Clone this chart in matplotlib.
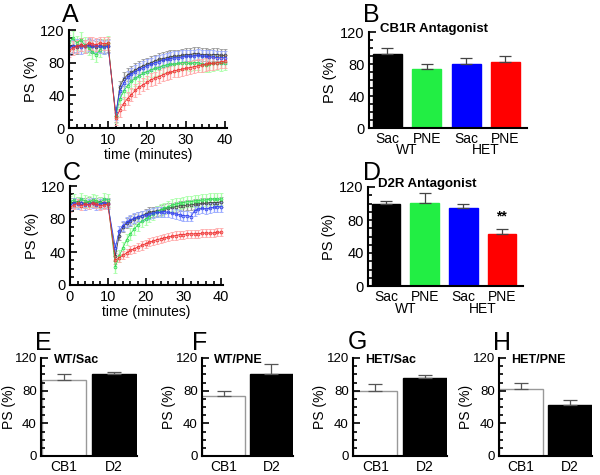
import matplotlib
matplotlib.use("Agg")
import matplotlib.pyplot as plt
from matplotlib.ticker import MultipleLocator

plt.rcParams['font.family'] = ['Liberation Sans', 'DejaVu Sans']

# ---------------- data ----------------
time_min = [0, 1, 2, 3, 4, 5, 6, 7, 8, 9, 10,
            12, 13, 14, 15, 16, 17, 18, 19, 20, 21, 22, 23, 24, 25, 26, 27, 28, 29, 30,
            31, 32, 33, 34, 35, 36, 37, 38, 39, 40]

# Panel A (CB1R antagonist time course)
a_black = [100, 101, 99, 102, 100, 101, 100, 99, 101, 100, 101,
           15, 50, 60, 65, 68, 71, 74, 76, 78, 80, 82, 84, 85, 86, 87, 88, 88, 89, 90,
           90, 91, 91, 90, 90, 89, 90, 90, 89, 89]
a_green = [105, 110, 104, 108, 102, 98, 93, 90, 96, 100, 104,
           15, 35, 45, 52, 57, 61, 64, 67, 69, 71, 73, 74, 76, 77, 78, 78, 79, 80, 80,
           79, 80, 80, 78, 77, 78, 79, 80, 79, 80]
a_blue = [98, 100, 101, 99, 100, 102, 100, 101, 100, 99, 100,
          18, 45, 55, 62, 66, 69, 72, 74, 76, 78, 80, 81, 83, 84, 85, 86, 86, 87, 88,
          88, 88, 89, 88, 88, 87, 87, 86, 86, 86]
a_red = [95, 98, 100, 102, 100, 104, 103, 102, 104, 103, 104,
         12, 22, 30, 36, 41, 46, 50, 53, 56, 59, 61, 63, 65, 67, 68, 70, 71, 72, 73,
         74, 75, 76, 77, 78, 79, 79, 80, 81, 82]

# Panel C (D2R antagonist time course)
c_black = [99, 100, 101, 100, 99, 101, 100, 100, 101, 99, 100,
           35, 60, 70, 75, 78, 80, 82, 84, 86, 88, 89, 90, 91, 92, 93, 94, 95, 96, 96,
           97, 97, 98, 98, 99, 99, 100, 100, 100, 101]
c_green = [101, 103, 100, 104, 102, 101, 103, 102, 100, 104, 103,
           22, 35, 45, 55, 62, 68, 73, 77, 80, 83, 86, 89, 91, 93, 95, 97, 98, 99, 100,
           101, 101, 102, 102, 103, 103, 104, 104, 104, 104]
c_blue = [97, 99, 98, 100, 97, 98, 99, 97, 98, 99, 98,
          45, 65, 72, 76, 79, 81, 83, 84, 85, 86, 87, 88, 88, 89, 88, 87, 86, 85, 84,
          84, 83, 90, 92, 93, 92, 93, 94, 95, 95]
c_red = [94, 97, 99, 96, 98, 97, 99, 98, 96, 97, 98,
         30, 33, 36, 39, 42, 44, 46, 48, 50, 52, 53, 55, 56, 57, 58, 59, 60, 61, 61,
         62, 62, 62, 62, 63, 63, 63, 63, 64, 64]

a_sem = [8, 9, 8, 8]   # black, green, blue, red
c_sem = [6, 7, 6, 5]

# Bar panels
groups = ["Sac", "PNE", "Sac", "PNE"]
genotypes = ["WT", "HET"]
cb1_mean = [93, 74, 80, 82]
cb1_err = [7, 6, 8, 8]
d2_mean = [100, 101, 95, 63]
d2_err = [3, 12, 4, 6]

pair_labels = ["CB1", "D2"]
pair_titles = ["WT/Sac", "WT/PNE", "HET/Sac", "HET/PNE"]

colors = ["#000000", "#22ee44", "#0000ff", "#ff0000"]
line_c = ["#444444", "#33dd55", "#3344ee", "#ee3333"]
light = ["#999999", "#aaffaa", "#99aaff", "#ffaaaa"]

fig = plt.figure(figsize=(6, 4.75), dpi=100)

def px_axes(l, r, b, t):
    ax = fig.add_axes([l / 600, 1 - b / 475, (r - l) / 600, (b - t) / 475])
    ax._wpx = r - l
    return ax

def style(ax, label_off, tsize=10.5, lsize=10.5, tpad=3):
    for s in ["top", "right"]:
        ax.spines[s].set_visible(False)
    for s in ["left", "bottom"]:
        ax.spines[s].set_linewidth(1.5)
    ax.set_ylim(0, 120)
    ax.set_yticks([0, 40, 80, 120])
    ax.yaxis.set_minor_locator(MultipleLocator(10))
    ax.tick_params(axis='y', which='both', direction='in', labelsize=tsize,
                   width=1.2, pad=tpad)
    ax.tick_params(axis='y', which='major', length=5)
    ax.tick_params(axis='y', which='minor', length=3)
    ax.set_ylabel("PS (%)", fontsize=lsize)
    # label_off: pixel offset of label centre from the y axis
    ax.yaxis.set_label_coords((label_off + 6) / ax._wpx, 0.5)

def timecourse(ax, series, sems, off):
    for y, e, c, lc in zip(series, sems, line_c, light):
        ax.errorbar(time_min, y, yerr=e, fmt='o-', ms=2.0, lw=0.6,
                    color=c, ecolor=lc, elinewidth=1.0, capsize=1.2,
                    mfc='none', mew=0.6)
    style(ax, off)
    ax.set_xlim(0, 40.5)
    ax.set_xticks([0, 10, 20, 30, 40])
    ax.xaxis.set_minor_locator(MultipleLocator(2))
    ax.tick_params(axis='x', which='both', direction='in', labelsize=10.5, width=1.2)
    ax.tick_params(axis='x', which='major', length=5)
    ax.tick_params(axis='x', which='minor', length=3)
    ax.set_xlabel("time (minutes)", fontsize=10, labelpad=1)

def bars4(ax, means, errs, title, off):
    x = list(range(len(means)))
    ax.bar(x, means, width=0.74, color=colors, edgecolor=colors)
    ax.errorbar(x, means, yerr=[[0] * len(errs), errs], fmt='none',
                ecolor='#444444', elinewidth=0.9, capsize=4, capthick=0.9)
    style(ax, off)
    ax.set_xlim(-0.47, 3.55)
    ax.set_xticks(x)
    ax.set_xticklabels(groups, fontsize=10)
    ax.tick_params(axis='x', length=0, pad=3)
    ax.text(0.5, -19, genotypes[0], ha='center', va='top', fontsize=10,
            transform=ax.transData)
    ax.text(2.5, -19, genotypes[1], ha='center', va='top', fontsize=10,
            transform=ax.transData)
    ax.text(-0.2, 124, title, fontsize=9.5, fontweight='bold', ha='left',
            va='center', transform=ax.transData)

def bars2(ax, vals, errs, title, off):
    x = [0, 1]
    ax.bar(x, vals, width=0.88, color=["white", "black"],
           edgecolor=["#999999", "black"], linewidth=1)
    ax.errorbar(x, vals, yerr=[[0, 0], errs], fmt='none',
                ecolor='#555555', elinewidth=0.9, capsize=5, capthick=0.9)
    style(ax, off, tsize=9.5, lsize=10, tpad=3)
    ax.set_xlim(-0.45, 1.45)
    ax.set_xticks(x)
    ax.set_xticklabels(pair_labels, fontsize=10)
    ax.tick_params(axis='x', length=0, pad=3)
    ax.text(-0.2, 117, title, fontsize=9, fontweight='bold', ha='left',
            va='center', transform=ax.transData)

axA = px_axes(69, 227, 128, 30)
timecourse(axA, [a_black, a_green, a_blue, a_red], a_sem, -37)
axC = px_axes(70, 223, 285, 186)
timecourse(axC, [c_black, c_green, c_blue, c_red], c_sem, -37)

axB = px_axes(369, 527, 128, 32)
bars4(axB, cb1_mean, cb1_err, "CB1R Antagonist", -38)
axD = px_axes(368, 523, 286, 187)
bars4(axD, d2_mean, d2_err, "D2R Antagonist", -38)
axD.text(3, 76, "**", ha='center', va='bottom', fontsize=10, fontweight='bold')

pair_boxes = [(41, 137), (202, 293), (353, 447), (499, 592)]
pair_offs = [-31, -32, -32, -32]
for i, (l, r) in enumerate(pair_boxes):
    ax = px_axes(l, r, 456, 358)
    bars2(ax, [cb1_mean[i], d2_mean[i]], [cb1_err[i], d2_err[i]], pair_titles[i],
          pair_offs[i])

# panel letters
letters = [("A", 62, 15), ("B", 363, 15), ("C", 63, 173), ("D", 363, 173),
           ("E", 35, 343), ("F", 192, 343), ("G", 348, 342), ("H", 493, 343)]
for s, x, y in letters:
    fig.text(x / 600, 1 - y / 475, s, fontsize=18, ha='left', va='center')

fig.savefig("out.png", dpi=100)
